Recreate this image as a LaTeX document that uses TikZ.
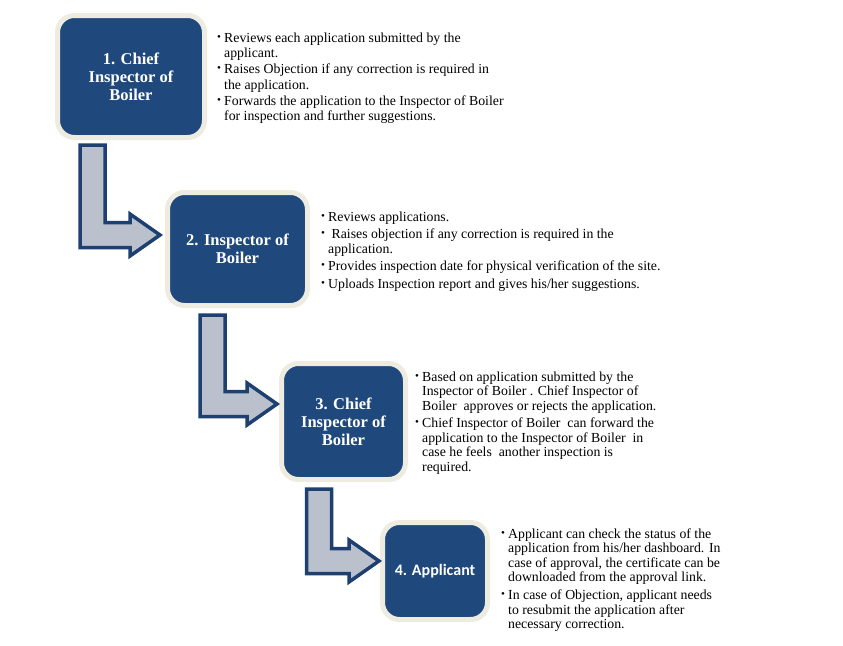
\documentclass[tikz,border=0pt]{standalone}
\usepackage{fontspec}
\setmainfont{Liberation Serif}
\newfontfamily\calibrifont{Carlito}
\usetikzlibrary{calc,shadows}
\definecolor{boxblue}{RGB}{31,73,125}
\definecolor{cream}{RGB}{238,236,225}
\definecolor{arrfill}{RGB}{187,192,205}
\definecolor{arrline}{RGB}{30,64,112}
\newcommand{\bitem}[1]{\par\noindent\hangindent=7pt\hangafter=1\makebox[7pt][l]{\raisebox{0.25ex}{\scalebox{0.8}{•}}}#1\par}
\newcommand{\bentarrow}[6]{%
  \draw[bentarr] let \p1=($(#1.south west)+(#3,#4)$), \p2=($(#2.west)+(-#6,#5)$) in
  (\x1-12.5pt,\y1) -- (\x1+12.5pt,\y1) -- (\x1+12.5pt,\y2+12.5pt) -- (\x2-30pt,\y2+12.5pt)
  -- (\x2-30pt,\y2+21pt) -- (\x2,\y2) -- (\x2-30pt,\y2-21pt) -- (\x2-30pt,\y2-12.5pt)
  -- (\x1-12.5pt,\y2-12.5pt) -- cycle;}
\begin{document}
\begin{tikzpicture}[x=1pt,y=-1pt,
  stepbox/.style={shape=rectangle, rounded corners=17pt, fill=boxblue, draw=cream,
    line width=5pt, outer sep=0pt, text=white, font=\fontsize{16.5}{18}\selectfont\bfseries,
    align=center, inner sep=2pt,
    drop shadow={opacity=0.25, shadow xshift=1.5pt, shadow yshift=-2pt}},
  bentarr/.style={fill=arrfill, draw=arrline, line width=3.5pt, line join=miter},
  notes/.style={anchor=base west, inner sep=0pt, text=black}]
\useasboundingbox[fill=white] (0,0) rectangle (843,645);

\node[stepbox, minimum width=147pt, minimum height=122pt] (b1) at (131,76.5) {1. Chief\\Inspector of\\Boiler};
\node[stepbox, minimum width=140pt, minimum height=113pt] (b2) at (237.5,249) {2. Inspector of\\Boiler};
\node[stepbox, minimum width=124pt, minimum height=116pt] (b3) at (343.5,421.5) {3. Chief\\Inspector of\\Boiler};
\node[stepbox, minimum width=105pt, minimum height=97pt, font=\calibrifont\fontsize{16}{18}\selectfont\bfseries] (b4) at (435,571) {4. Applicant};

\bentarrow{b1}{b2}{35}{7.5}{-14}{7.5}
\bentarrow{b2}{b3}{45}{9.5}{-17.5}{4.5}
\bentarrow{b3}{b4}{37.5}{9.5}{-10}{3.5}

\node[notes] (t1) at (217,42) {\begin{minipage}[t]{330pt}\fontsize{13.8}{15.5}\selectfont\setlength{\parskip}{0.5pt}%
\bitem{Reviews each application submitted by the\\applicant.}
\bitem{Raises Objection if any correction is required in\\the application.}
\bitem{Forwards the application to the Inspector of Boiler\\for inspection and further suggestions.}
\end{minipage}};

\node[notes] (t2) at (321,221) {\begin{minipage}[t]{400pt}\fontsize{13.8}{14.5}\selectfont\setlength{\parskip}{3pt}%
\bitem{Reviews applications.}
\bitem{ Raises objection if any correction is required in the\\application.}
\bitem{Provides inspection date for physical verification of the site.}
\bitem{Uploads Inspection report and gives his/her suggestions.}
\end{minipage}};

\node[notes] (t3) at (415,381) {\begin{minipage}[t]{330pt}\fontsize{13.8}{14.5}\selectfont\setlength{\parskip}{3pt}%
\bitem{Based on application submitted by the\\Inspector of Boiler . Chief Inspector of\\Boiler\ \ approves or rejects the application.}
\bitem{Chief Inspector of Boiler\ \ can forward the\\application to the Inspector of Boiler\ \ in\\case he feels\ \ another inspection is\\required.}
\end{minipage}};

\node[notes] (t4) at (501,538) {\begin{minipage}[t]{330pt}\fontsize{13.8}{14.5}\selectfont\setlength{\parskip}{3.5pt}%
\bitem{Applicant can check the status of the\\application from his/her dashboard. In\\case of approval, the certificate can be\\downloaded from the approval link.}
\bitem{In case of Objection, applicant needs\\to resubmit the application after\\necessary correction.}
\end{minipage}};
\end{tikzpicture}
\end{document}
